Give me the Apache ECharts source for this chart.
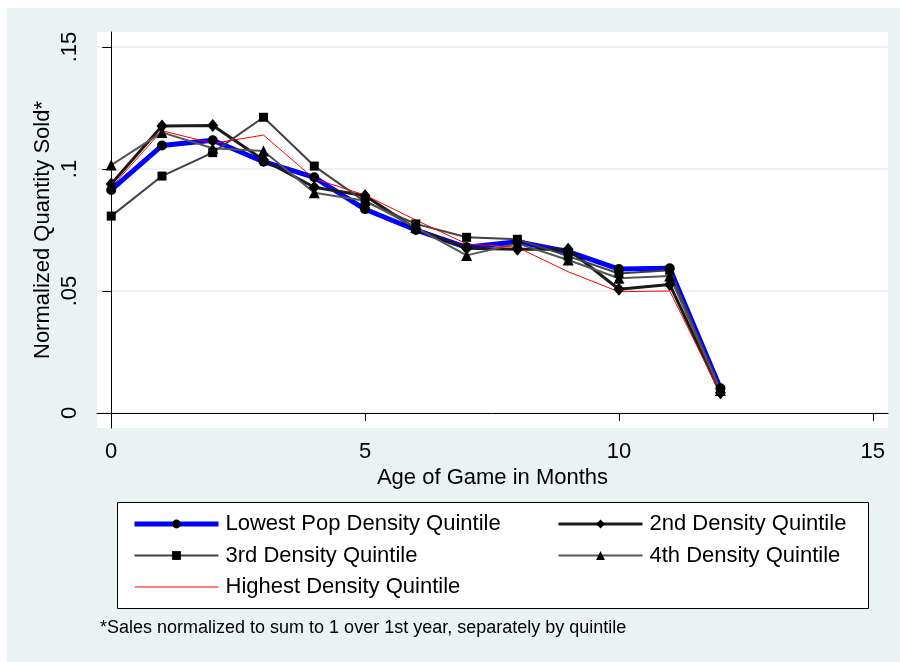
<!DOCTYPE html>
<html>
<head>
<meta charset="utf-8">
<script src="https://cdn.jsdelivr.net/npm/echarts@6/dist/echarts.min.js"></script>
<style>
  html, body { margin: 0; padding: 0; background: #ffffff; }
  #chart { width: 900px; height: 662px; }
</style>
</head>
<body>
<div id="chart"></div>
<script>
// Age of game in months
const months = [0, 1, 2, 3, 4, 5, 6, 7, 8, 9, 10, 11, 12];

// Normalized quantity sold by population density quintile
const lowestQuintile  = [0.0914, 0.1096, 0.1118, 0.1030, 0.0966, 0.0835, 0.0750, 0.0679, 0.0702, 0.0661, 0.0590, 0.0593, 0.0101];
const secondQuintile  = [0.0939, 0.1176, 0.1178, 0.1037, 0.0925, 0.0890, 0.0755, 0.0675, 0.0671, 0.0671, 0.0507, 0.0527, 0.0083];
const thirdQuintile   = [0.0807, 0.0971, 0.1067, 0.1212, 0.1012, 0.0866, 0.0775, 0.0720, 0.0712, 0.0643, 0.0572, 0.0585, 0.0095];
const fourthQuintile  = [0.1016, 0.1150, 0.1085, 0.1074, 0.0903, 0.0870, 0.0760, 0.0646, 0.0695, 0.0627, 0.0552, 0.0561, 0.0092];
const highestQuintile = [0.0925, 0.1157, 0.1105, 0.1139, 0.0960, 0.0893, 0.0791, 0.0693, 0.0679, 0.0579, 0.0497, 0.0500, 0.0080];

const seriesNames = [
  'Lowest Pop Density Quintile',
  '2nd Density Quintile',
  '3rd Density Quintile',
  '4th Density Quintile',
  'Highest Density Quintile'
];

// Tick labels
const xTicks = [0, 5, 10, 15];
const yTicks = [0, 0.05, 0.1, 0.15];

const FONT = 'Liberation Sans, Arial, sans-serif';
const BG = '#eaf2f3';

const lineColors = ['#0000ff', '#1a1a1a', '#404040', '#555555', '#ff0000'];
const lineWidths = [5, 3, 2, 2, 1];

const pairs = vals => months.map((m, i) => [m, vals[i]]);

function lineSeries(idx, vals, symbol, size) {
  return {
    name: seriesNames[idx],
    type: 'line',
    data: pairs(vals),
    symbol: symbol,
    symbolSize: size,
    showSymbol: symbol !== 'none',
    lineStyle: { color: lineColors[idx], width: lineWidths[idx] },
    // markers are black; a line without markers gets a transparent legend marker
    itemStyle: { color: symbol === 'none' ? 'rgba(0,0,0,0)' : '#000000', borderWidth: 0 },
    emphasis: { disabled: true },
    animation: false,
    z: 2
  };
}

const legendItem = idx => ({
  name: seriesNames[idx],
  lineStyle: { width: lineWidths[idx], color: lineColors[idx] }
});

const chart = echarts.init(document.getElementById('chart'), null, { renderer: 'canvas' });

const legendCommon = {
  orient: 'vertical',
  itemWidth: 84,
  itemHeight: 11,
  itemGap: 7.5,
  selectedMode: false,
  textStyle: { fontFamily: FONT, fontSize: 22, lineHeight: 24, color: '#000', padding: [0, 0, 0, 2] }
};

chart.setOption({
  backgroundColor: '#ffffff',
  animation: false,
  graphic: [
    { type: 'rect', z: -10, silent: true,
      shape: { x: 7, y: 8, width: 893, height: 654 },
      style: { fill: BG } },
    { type: 'rect', z: 5, silent: true,
      shape: { x: 117.5, y: 502.5, width: 751, height: 106 },
      style: { fill: '#ffffff', stroke: '#000000', lineWidth: 1 } },
    { type: 'text', z: 10, silent: true, left: 100, top: 619,
      style: { text: '*Sales normalized to sum to 1 over 1st year, separately by quintile',
               font: '18px ' + FONT, fill: '#000' } }
  ],
  grid: {
    left: 97, right: 12, top: 32, bottom: 234,
    show: true, backgroundColor: '#ffffff', borderWidth: 0
  },
  legend: [
    Object.assign({}, legendCommon, {
      left: 127, top: 507, z: 10,
      data: [legendItem(0), legendItem(2), legendItem(4)]
    }),
    Object.assign({}, legendCommon, {
      left: 552, top: 507, z: 10,
      data: [legendItem(1), legendItem(3)]
    })
  ],
  xAxis: {
    type: 'value',
    min: -0.28, max: 15.3,
    name: 'Age of Game in Months',
    nameLocation: 'middle',
    nameGap: 39,
    nameMoveOverlap: false,
    nameTextStyle: { fontFamily: FONT, fontSize: 22, color: '#000' },
    axisLine: { show: true, lineStyle: { color: '#000', width: 1 } },
    axisTick: { show: true, length: 8, lineStyle: { color: '#000' }, customValues: xTicks },
    axisLabel: { fontFamily: FONT, fontSize: 22, color: '#000', margin: 13, customValues: xTicks },
    splitLine: { show: false }
  },
  yAxis: {
    type: 'value',
    min: -0.00615, max: 0.15615,
    name: 'Normalized Quantity Sold*',
    nameLocation: 'middle',
    nameGap: 43,
    nameMoveOverlap: false,
    nameRotate: 90,
    nameTextStyle: { fontFamily: FONT, fontSize: 22, color: '#000' },
    axisLine: { show: true, lineStyle: { color: '#000', width: 1 } },
    axisTick: { show: true, length: 9, lineStyle: { color: '#000' }, customValues: yTicks },
    axisLabel: {
      fontFamily: FONT, fontSize: 22, color: '#000', rotate: 90, margin: 16,
      customValues: yTicks,
      formatter: v => (Math.abs(v) < 1e-9 ? '0' : String(+v.toFixed(2)).replace(/^0\./, '.'))
    },
    splitLine: { show: true, lineStyle: { color: BG, width: 2 } }
  },
  series: [
    lineSeries(0, lowestQuintile, 'circle', 10),
    lineSeries(1, secondQuintile, 'diamond', [11, 13]),
    lineSeries(2, thirdQuintile, 'rect', 9),
    lineSeries(3, fourthQuintile, 'triangle', 11),
    lineSeries(4, highestQuintile, 'none', 0)
  ]
});
</script>
</body>
</html>
